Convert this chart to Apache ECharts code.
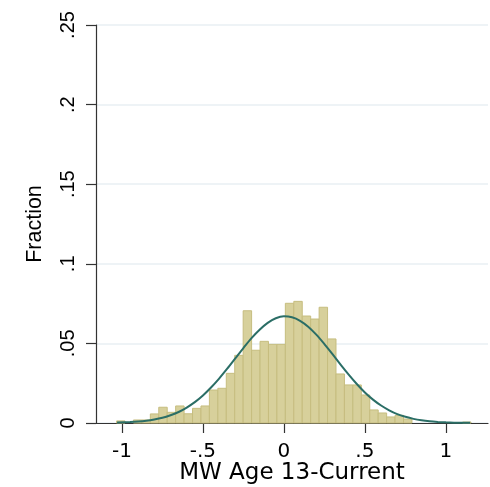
<!DOCTYPE html>
<html>
<head>
<meta charset="utf-8">
<script src="https://cdn.jsdelivr.net/npm/echarts@6/dist/echarts.min.js"></script>
<style>
  html, body { margin: 0; padding: 0; background: #fff; }
  #chart { width: 490px; height: 487px; }
</style>
</head>
<body>
<div id="chart"></div>
<script>
// histogram bins (equal width)
const binStart = -1.033
const binWidth = 0.0521
const fractions = [
  0.0013, 0, 0.0019, 0.0019, 0.0057, 0.0099, 0.0067, 0.0107, 0.0058, 0.0092,
  0.0107, 0.0207, 0.0218, 0.0312, 0.0425, 0.0705, 0.0457, 0.0513, 0.0494, 0.0494,
  0.0752, 0.0764, 0.0672, 0.0653, 0.0727, 0.0528, 0.0308, 0.0239, 0.0239, 0.0176,
  0.0082, 0.0063, 0.0038, 0.0048, 0.0025, 0, 0, 0, 0, 0,
  0, 0.0006
]

// normal density overlay
const curveX = [-1.03, -0.95, -0.9, -0.85, -0.8, -0.75, -0.7, -0.65, -0.6, -0.55, -0.5, -0.45,
  -0.4, -0.35, -0.3, -0.25, -0.2, -0.15, -0.1, -0.05, 0, 0.05, 0.1, 0.15,
  0.2, 0.25, 0.3, 0.35, 0.4, 0.45, 0.5, 0.55, 0.6, 0.65, 0.7, 0.75,
  0.8, 0.85, 0.9, 0.95, 1.0, 1.05, 1.1, 1.15]
const curveY = [0.0003, 0.0006, 0.0009, 0.0014, 0.0022, 0.0033, 0.0049, 0.0069, 0.0097, 0.0131, 0.0173, 0.0223,
  0.0279, 0.0341, 0.0406, 0.0471, 0.0533, 0.0586, 0.0629, 0.0658, 0.067, 0.0664, 0.0642, 0.0605,
  0.0555, 0.0496, 0.0433, 0.0367, 0.0304, 0.0245, 0.0192, 0.0147, 0.011, 0.008, 0.0056, 0.0039,
  0.0026, 0.0017, 0.0011, 0.0007, 0.0004, 0.0002, 0.0001, 0.0001]

const xTicks = [-1, -0.5, 0, 0.5, 1]

const barData = fractions.map((f, i) => [binStart + i * binWidth, binStart + (i + 1) * binWidth, f])
const lineData = curveX.map((x, i) => [x, curveY[i]])

const fmt = v => {
  const s = String(+(+v).toFixed(2))
  return s.replace(/^(-?)0\./, '$1.')
}

const chart = echarts.init(document.getElementById('chart'))
chart.setOption({
  animation: false,
  backgroundColor: '#fff',
  grid: { left: 96, right: 2, top: 25, bottom: 64, outerBoundsMode: 'none' },
  xAxis: {
    type: 'value',
    min: -1.16,
    max: 1.26,
    name: 'MW Age 13-Current',
    nameLocation: 'middle',
    nameGap: 39,
    nameMoveOverlap: false,
    nameTextStyle: { fontFamily: 'DejaVu Sans', fontSize: 23, color: '#000' },
    axisLine: { show: true, onZero: false, lineStyle: { color: '#333', width: 1.2 } },
    axisTick: { show: true, length: 10, customValues: xTicks, lineStyle: { color: '#333', width: 1.2 } },
    axisLabel: { customValues: xTicks, formatter: fmt, margin: 19, fontFamily: 'DejaVu Sans', fontSize: 20, color: '#000' },
    splitLine: { show: false }
  },
  yAxis: {
    type: 'value',
    min: 0,
    max: 0.25,
    interval: 0.05,
    name: 'Fraction',
    nameLocation: 'middle',
    nameGap: 50,
    nameMoveOverlap: false,
    nameTextStyle: { fontFamily: 'Liberation Sans', fontSize: 21.5, color: '#000' },
    axisLine: { show: true, onZero: false, lineStyle: { color: '#333', width: 1.2 } },
    axisTick: { show: true, length: 10, lineStyle: { color: '#333', width: 1.2 } },
    axisLabel: { rotate: 90, margin: 18, formatter: fmt, fontFamily: 'Liberation Sans', fontSize: 20, color: '#000' },
    splitLine: { show: true, lineStyle: { color: '#e9eff3', width: 1.5 } }
  },
  series: [
    {
      type: 'custom',
      data: barData,
      encode: { x: [0, 1], y: 2 },
      renderItem: (params, api) => {
        const h = api.value(2)
        if (!h) return null
        const p0 = api.coord([api.value(0), h])
        const p1 = api.coord([api.value(1), 0])
        return {
          type: 'rect',
          shape: { x: p0[0], y: p0[1], width: p1[0] - p0[0], height: p1[1] - p0[1] },
          style: { fill: '#d7d09b', stroke: '#c6bd7f', lineWidth: 1 }
        }
      }
    },
    {
      type: 'line',
      data: lineData,
      smooth: 0.3,
      showSymbol: false,
      lineStyle: { color: '#2b6e66', width: 2 },
      z: 3
    }
  ]
})
</script>
</body>
</html>
